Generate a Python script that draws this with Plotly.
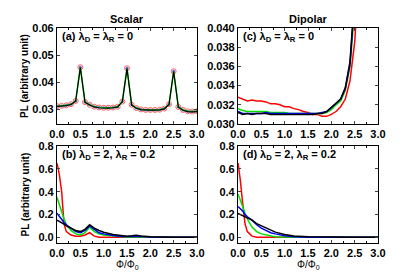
import plotly.graph_objects as go

# ---------------- data ----------------
x_a = [round(0.1 * i, 1) for i in range(31)]
pl_a = [0.0311, 0.0312, 0.0314, 0.0318, 0.0330, 0.0455, 0.0326, 0.0316, 0.0309, 0.0306,
        0.0305, 0.0305, 0.0306, 0.0309, 0.0328, 0.0451, 0.0316, 0.0304, 0.0299, 0.0297,
        0.0297, 0.0297, 0.0298, 0.0302, 0.0318, 0.0440, 0.0308, 0.0297, 0.0292, 0.0291, 0.0292]

x_c = [0.0, 0.1, 0.2, 0.3, 0.4, 0.5, 0.6, 0.7, 0.8, 0.9, 1.0, 1.1, 1.2, 1.3, 1.4, 1.5,
       1.6, 1.7, 1.8, 1.9, 2.0, 2.1, 2.2, 2.3, 2.4, 2.5, 2.6]
c_red = [0.0328, 0.0326, 0.0324, 0.0325, 0.0324, 0.0324, 0.0323, 0.0321, 0.0321, 0.0320,
         0.0318, 0.0318, 0.0316, 0.0315, 0.0313, 0.0312, 0.0310, 0.0310, 0.0308, 0.0308,
         0.0310, 0.0313, 0.0318, 0.0326, 0.0345, 0.0385, 0.0460]
c_green = [0.0316, 0.0314, 0.0313, 0.0313, 0.0313, 0.0313, 0.0313, 0.0312, 0.0312, 0.0312,
           0.0312, 0.0311, 0.0311, 0.0311, 0.0311, 0.0311, 0.0311, 0.0311, 0.0311, 0.0312,
           0.0315, 0.0320, 0.0324, 0.0335, 0.0360, 0.0420, 0.0500]
c_blue = [0.0313, 0.0311, 0.0311, 0.0311, 0.0311, 0.0311, 0.0312, 0.0311, 0.0311, 0.0311,
          0.0311, 0.0311, 0.0311, 0.0311, 0.0311, 0.0311, 0.0311, 0.0311, 0.0312, 0.0313,
          0.0317, 0.0322, 0.0326, 0.0337, 0.0362, 0.0430, 0.0510]
c_black = [0.0312, 0.0310, 0.0311, 0.0310, 0.0311, 0.0311, 0.0311, 0.0310, 0.0310, 0.0310,
           0.0310, 0.0310, 0.0310, 0.0310, 0.0310, 0.0310, 0.0310, 0.0311, 0.0311, 0.0313,
           0.0317, 0.0322, 0.0326, 0.0338, 0.0365, 0.0435, 0.0520]

x_b = [0.0, 0.05, 0.1, 0.15, 0.2, 0.3, 0.4, 0.5, 0.6, 0.7, 0.8, 0.9, 1.0, 1.2, 1.4, 1.5, 1.6,
       1.7, 1.8, 2.0, 2.5, 3.0]
b_red = [0.65, 0.55, 0.40, 0.12, 0.05, 0.02, 0.01, 0.01, 0.02, 0.04, 0.01, 0.0, 0.0, 0.0, 0.0,
         0.0, 0.0, 0.0, 0.0, 0.0, 0.0, 0.0]
b_green = [0.35, 0.28, 0.22, 0.16, 0.11, 0.06, 0.03, 0.02, 0.04, 0.09, 0.05, 0.03, 0.02, 0.01,
           0.005, 0.003, 0.003, 0.005, 0.003, 0.0, 0.0, 0.0]
b_blue = [0.21, 0.18, 0.15, 0.13, 0.11, 0.08, 0.05, 0.04, 0.06, 0.10, 0.07, 0.04, 0.03, 0.015,
          0.008, 0.006, 0.007, 0.010, 0.006, 0.002, 0.0, 0.0]
b_black = [0.15, 0.14, 0.13, 0.115, 0.10, 0.08, 0.06, 0.05, 0.07, 0.11, 0.08, 0.06, 0.045, 0.025,
           0.013, 0.010, 0.013, 0.018, 0.012, 0.005, 0.001, 0.0]

x_d = [0.0, 0.05, 0.1, 0.15, 0.2, 0.3, 0.4, 0.5, 0.6, 0.7, 0.8, 1.0, 1.2, 1.5, 2.0, 2.5, 3.0]
d_red = [0.65, 0.50, 0.30, 0.12, 0.05, 0.01, 0.0, 0.0, 0.0, 0.0, 0.0, 0.0, 0.0, 0.0, 0.0, 0.0, 0.0]
d_green = [0.38, 0.33, 0.27, 0.21, 0.16, 0.09, 0.05, 0.03, 0.02, 0.01, 0.005, 0.002, 0.0, 0.0,
           0.0, 0.0, 0.0]
d_blue = [0.27, 0.25, 0.23, 0.20, 0.18, 0.15, 0.11, 0.08, 0.06, 0.04, 0.03, 0.013, 0.005, 0.0,
          0.0, 0.0, 0.0]
d_black = [0.21, 0.20, 0.19, 0.18, 0.17, 0.15, 0.12, 0.10, 0.08, 0.06, 0.045, 0.025, 0.012,
           0.004, 0.0, 0.0, 0.0]

x_ticks = [0.0, 0.5, 1.0, 1.5, 2.0, 2.5, 3.0]
x_ticklabels = ["0.0", "0.5", "1.0", "1.5", "2.0", "2.5", "3.0"]

# ---------------- figure ----------------
W, H = 399, 279
OFF = 7  # page offset compensation
RED, GREEN, BLUE, BLACK = "#ff0000", "#00e000", "#0000ff", "#000000"
FONT = "Liberation Sans, Arial"

def xd(a, b):
    return [(a - OFF) / W, (b - OFF) / W]

def yd(top, bot):
    return [1 - (bot - OFF) / H, 1 - (top - OFF) / H]

def px(xp):
    return (xp - OFF) / W

def py(yp):
    return 1 - (yp - OFF) / H

fig = go.Figure()
lw = 1.5

# panel (a)
fig.add_trace(go.Scatter(x=x_a, y=pl_a, mode="markers", xaxis="x", yaxis="y",
                         marker=dict(symbol="circle-open", size=5, color="#ff6060", line=dict(width=1))))
fig.add_trace(go.Scatter(x=x_a, y=pl_a, mode="markers", xaxis="x", yaxis="y",
                         marker=dict(symbol="circle", size=3, color="#6060ff")))
fig.add_trace(go.Scatter(x=x_a, y=pl_a, mode="lines", xaxis="x", yaxis="y",
                         line=dict(color=GREEN, width=lw)))
fig.add_trace(go.Scatter(x=x_a, y=[v - 0.0001 for v in pl_a], mode="lines", xaxis="x", yaxis="y",
                         line=dict(color=BLACK, width=1.2)))

# panel (c)
for ys, col in [(c_red, RED), (c_green, GREEN), (c_blue, BLUE), (c_black, BLACK)]:
    fig.add_trace(go.Scatter(x=x_c, y=ys, mode="lines", xaxis="x2", yaxis="y2",
                             line=dict(color=col, width=lw)))
# panel (b)
for ys, col in [(b_red, RED), (b_green, GREEN), (b_blue, BLUE), (b_black, BLACK)]:
    fig.add_trace(go.Scatter(x=x_b, y=ys, mode="lines", xaxis="x3", yaxis="y3",
                             line=dict(color=col, width=lw)))
# panel (d)
for ys, col in [(d_red, RED), (d_green, GREEN), (d_blue, BLUE), (d_black, BLACK)]:
    fig.add_trace(go.Scatter(x=x_d, y=ys, mode="lines", xaxis="x4", yaxis="y4",
                             line=dict(color=col, width=lw)))

tickfont = dict(family=FONT, size=11, color="black", weight="bold")

def xaxis(dom, anchor):
    return dict(domain=dom, anchor=anchor, range=[0, 3], tickvals=x_ticks, ticktext=x_ticklabels,
                ticks="inside", ticklen=3, tickwidth=1, mirror="ticks", showline=True,
                linecolor="black", linewidth=1.2, showgrid=False, zeroline=False, tickfont=tickfont,
                automargin=False,
                minor=dict(ticks="inside", ticklen=2, dtick=0.25, tickcolor="black"))

def yaxis(dom, anchor, rng, tv, tt):
    return dict(domain=dom, anchor=anchor, range=rng, tickvals=tv, ticktext=tt,
                ticks="inside", ticklen=3, tickwidth=1, mirror="ticks", showline=True,
                linecolor="black", linewidth=1.2, showgrid=False, zeroline=False, tickfont=tickfont,
                automargin=False)

XA, XC = xd(56, 196), xd(237, 377)
YT, YB = yd(27, 123), yd(145, 242)

fig.update_layout(
    width=W, height=H, margin=dict(l=0, r=0, t=0, b=0),
    paper_bgcolor="white", plot_bgcolor="white", showlegend=False,
    xaxis=xaxis(XA, "y"), yaxis=yaxis(YT, "x", [0.0245, 0.06], [0.03, 0.04, 0.05, 0.06],
                                      ["0.03", "0.04", "0.05", "0.06"]),
    xaxis2=xaxis(XC, "y2"), yaxis2=yaxis(YT, "x2", [0.030, 0.040],
                                         [0.030, 0.032, 0.034, 0.036, 0.038, 0.040],
                                         ["0.030", "0.032", "0.034", "0.036", "0.038", "0.040"]),
    xaxis3=xaxis(XA, "y3"), yaxis3=yaxis(YB, "x3", [-0.05, 0.8], [0.0, 0.2, 0.4, 0.6, 0.8],
                                         ["0.0", "0.2", "0.4", "0.6", "0.8"]),
    xaxis4=xaxis(XC, "y4"), yaxis4=yaxis(YB, "x4", [-0.05, 0.8], [0.0, 0.2, 0.4, 0.6, 0.8],
                                         ["0.0", "0.2", "0.4", "0.6", "0.8"]),
)

bold = dict(family=FONT, size=11, color="black", weight="bold")
reg = dict(family=FONT, size=10, color="black")
ann = []
ann.append(dict(text="Scalar", x=(XA[0] + XA[1]) / 2, y=py(18), xref="paper", yref="paper",
                xanchor="center", yanchor="middle", showarrow=False, font=bold))
ann.append(dict(text="Dipolar", x=(XC[0] + XC[1]) / 2, y=py(18), xref="paper", yref="paper",
                xanchor="center", yanchor="middle", showarrow=False, font=bold))
labels = [("(a) λ<sub>D</sub> = λ<sub>R</sub> = 0", "x", "y"),
          ("(c) λ<sub>D</sub> = λ<sub>R</sub> = 0", "x2", "y2"),
          ("(b) λ<sub>D</sub> = 2, λ<sub>R</sub> = 0.2", "x3", "y3"),
          ("(d) λ<sub>D</sub> = 2, λ<sub>R</sub> = 0.2", "x4", "y4")]
for t, xr, yr in labels:
    ann.append(dict(text=t, x=0.02, y=1.0, xref=xr + " domain", yref=yr + " domain",
                    xanchor="left", yanchor="top", showarrow=False, font=bold))
for yy in [(YT[0] + YT[1]) / 2, (YB[0] + YB[1]) / 2]:
    ann.append(dict(text="PL (arbitrary unit)", x=px(24), y=yy, xref="paper", yref="paper",
                    xanchor="center", yanchor="middle", textangle=-90, showarrow=False,
                    font=dict(family=FONT, size=10, color="black", weight="bold")))
for xx in [(XA[0] + XA[1]) / 2, (XC[0] + XC[1]) / 2]:
    ann.append(dict(text="Φ/Φ<sub>0</sub>", x=xx, y=py(264), xref="paper", yref="paper",
                    xanchor="center", yanchor="middle", showarrow=False, font=reg))
fig.update_layout(annotations=ann)

fig.write_html("out.html")
